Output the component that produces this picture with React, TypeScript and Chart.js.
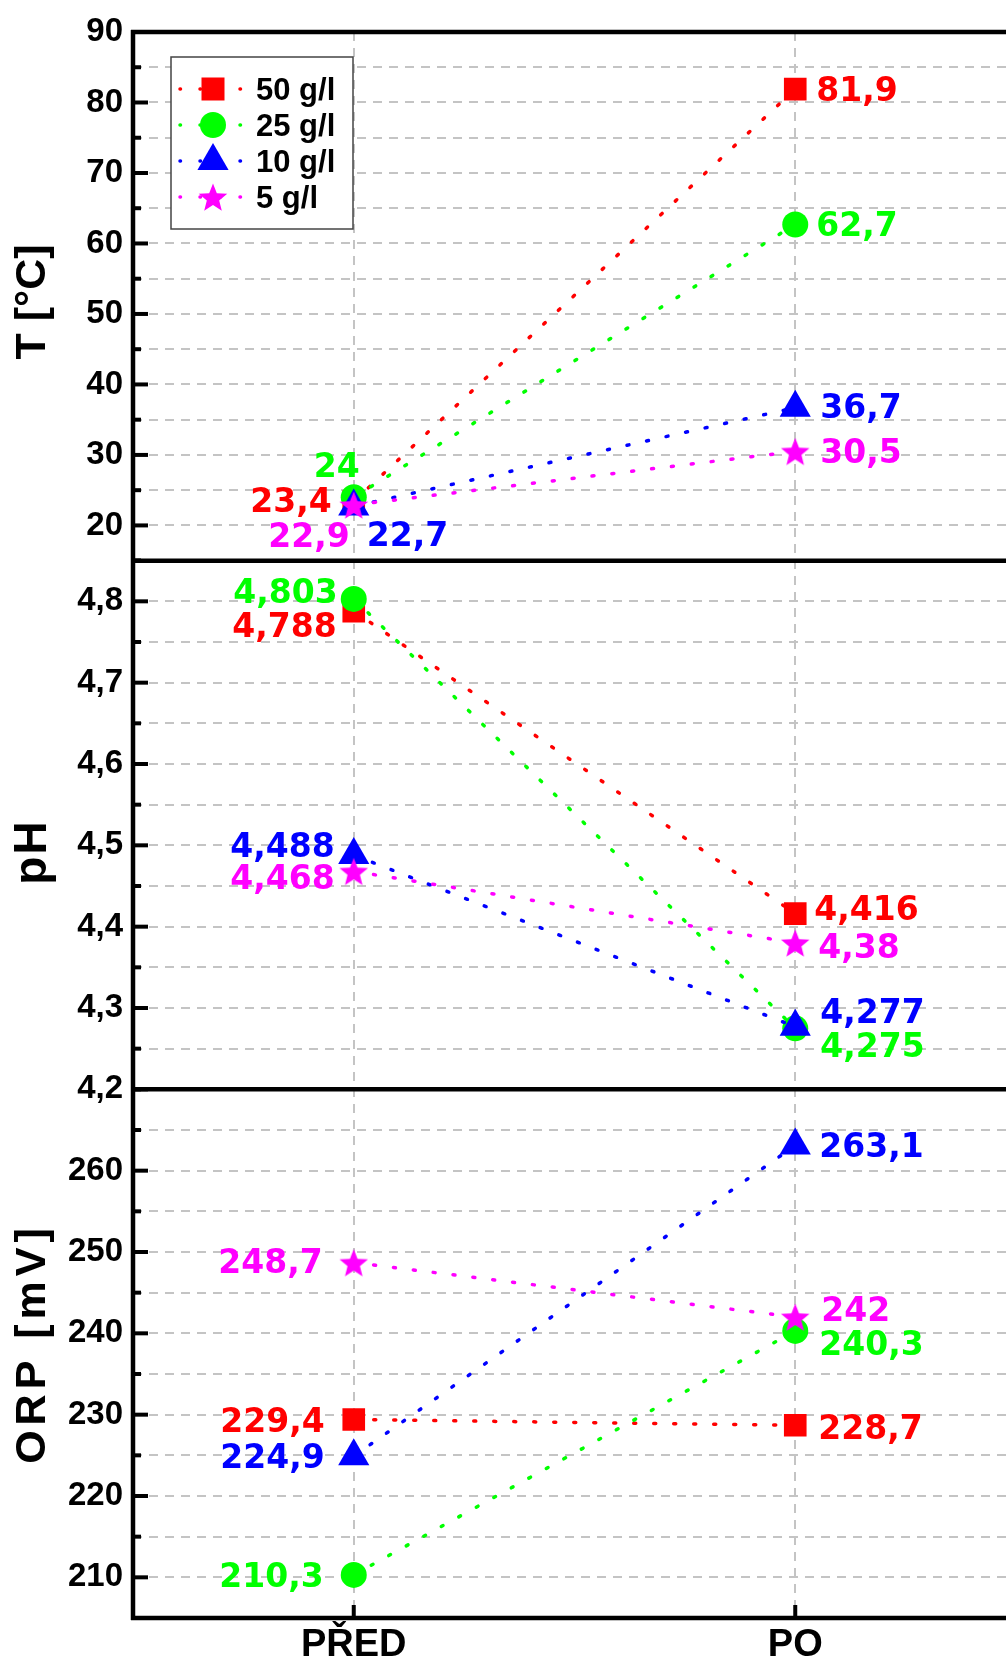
import React, { useEffect, useRef } from 'react';
import { Chart, registerables } from 'chart.js';

Chart.register(...registerables);

// ---------- data ----------
const categories = ['PŘED', 'PO'];
const seriesNames = ['50 g/l', '25 g/l', '10 g/l', '5 g/l'];

const temp50 = [23.4, 81.9];
const temp25 = [24, 62.7];
const temp10 = [22.7, 36.7];
const temp5 = [22.9, 30.5];

const ph50 = [4.788, 4.416];
const ph25 = [4.803, 4.275];
const ph10 = [4.488, 4.277];
const ph5 = [4.468, 4.38];

const orp50 = [229.4, 228.7];
const orp25 = [210.3, 240.3];
const orp10 = [224.9, 263.1];
const orp5 = [248.7, 242];

const tempTickLabels = [20, 30, 40, 50, 60, 70, 80, 90];
const phTickLabels = [4.2, 4.3, 4.4, 4.5, 4.6, 4.7, 4.8];
const orpTickLabels = [210, 220, 230, 240, 250, 260];

const axisTitles = ['T [°C]', 'pH', 'ORP [mV]'];

// ---------- style ----------
const COLORS = ['#ff0000', '#00ff00', '#0000ff', '#ff00ff'];
const GRID = '#c4c4c4';
const SANS = '"Liberation Sans", Arial, sans-serif';
const TICK_FONT = { family: SANS, weight: 'bold' as const, size: 33 };
const LABEL_FONT = 'bold 33px "DejaVu Sans", Verdana, sans-serif';
const CANVAS_W = 1034; // plot area extends past the visible right edge
const CANVAS_H = 1661;
// title drawing: [centerY, fontSize, letterSpacing]
const TITLE_STYLE: [number, number, number][] = [
  [302, 43, 0],
  [853, 46, 2],
  [1346, 43, 5],
];
const TITLE_X = 33;

// label offsets per panel, per series, per category: [dx, dy, align]
type Off = [number, number, CanvasTextAlign];
const tempOffsets: Off[][] = [
  [[-22, -1, 'right'], [21, 0, 'left']],
  [[-17, -32, 'center'], [21, 0, 'left']],
  [[13, 28, 'left'], [25, -2, 'left']],
  [[-4, 30, 'right'], [25, 0, 'left']],
];
const phOffsets: Off[][] = [
  [[-17, 14, 'right'], [19, -6, 'left']],
  [[-16, -8, 'right'], [25, 17, 'left']],
  [[-19, -10, 'right'], [25, -16, 'left']],
  [[-19, 6, 'right'], [23, 3, 'left']],
];
const orpOffsets: Off[][] = [
  [[-29, 0, 'right'], [23, 2, 'left']],
  [[-30, 0, 'right'], [24, 12, 'left']],
  [[-29, 0, 'right'], [24, 0, 'left']],
  [[-31, -2, 'right'], [26, -8, 'left']],
];

const fmt = (v: number) => String(v).replace('.', ',');

function makeStar(color: string, R: number, r: number) {
  const size = Math.ceil(R * 2) + 2;
  const c = document.createElement('canvas');
  c.width = size;
  c.height = size;
  const ctx = c.getContext('2d')!;
  ctx.fillStyle = color;
  ctx.beginPath();
  for (let i = 0; i < 10; i++) {
    const rad = i % 2 === 0 ? R : r;
    const a = -Math.PI / 2 + (i * Math.PI) / 5;
    ctx.lineTo(size / 2 + rad * Math.cos(a), size / 2 + 1.5 + rad * Math.sin(a));
  }
  ctx.closePath();
  ctx.fill();
  return c;
}

export default function App() {
  const ref = useRef<HTMLCanvasElement>(null);

  useEffect(() => {
    const canvas = ref.current!;
    const star = makeStar(COLORS[3], 15, 6.5);
    const pointStyles: any[] = ['rect', 'circle', 'triangle', star];
    const pointRadii = [16, 13, 18, 15];

    const panels = [
      { id: 'yT', series: [temp50, temp25, temp10, temp5], offsets: tempOffsets },
      { id: 'yPH', series: [ph50, ph25, ph10, ph5], offsets: phOffsets },
      { id: 'yORP', series: [orp50, orp25, orp10, orp5], offsets: orpOffsets },
    ];

    const datasets: any[] = [];
    panels.forEach((p) => {
      p.series.forEach((vals, si) => {
        datasets.push({
          label: seriesNames[si],
          data: vals,
          yAxisID: p.id,
          order: 4 - si,
          borderColor: COLORS[si],
          backgroundColor: COLORS[si],
          borderWidth: 3.5,
          borderDash: [2, 18],
          borderCapStyle: 'round',
          tension: 0,
          pointStyle: pointStyles[si],
          pointRadius: pointRadii[si],
          pointHoverRadius: pointRadii[si],
          pointBackgroundColor: COLORS[si],
          pointBorderColor: COLORS[si],
          pointBorderWidth: 0,
          labelOffsets: p.offsets[si],
        });
      });
    });

    const yScale = (min: number, max: number, step: number, labels: number[]) => ({
      type: 'linear',
      position: 'left',
      stack: 'panels',
      stackWeight: 1,
      min,
      max,
      ticks: {
        stepSize: step,
        autoSkip: false,
        color: '#000',
        font: TICK_FONT,
        padding: 10,
        callback: (v: any) => {
          const n = Number(v);
          const hit = labels.find((l) => Math.abs(l - n) < 1e-6);
          return hit === undefined ? '' : fmt(hit);
        },
      },
      grid: { color: GRID, lineWidth: 2, drawTicks: false },
      border: { display: false, dash: [9, 7] },
      title: { display: false },
      afterFit: (s: any) => {
        s.width = 133;
      },
    });

    const tickLists: Record<string, number[]> = {
      yT: tempTickLabels,
      yPH: phTickLabels,
      yORP: orpTickLabels,
    };

    const framePlugin = {
      id: 'frame',
      afterDraw(chart: any) {
        const ctx = chart.ctx;
        const a = chart.chartArea;
        ctx.save();
        ctx.strokeStyle = '#000';
        ctx.lineCap = 'butt';
        ctx.lineWidth = 4;
        ['yT', 'yPH', 'yORP'].forEach((id) => {
          const s = chart.scales[id];
          s.ticks.forEach((t: any) => {
            const y = s.getPixelForValue(t.value);
            const major = tickLists[id].some((l) => Math.abs(l - t.value) < 1e-6);
            ctx.beginPath();
            ctx.moveTo(a.left, y);
            ctx.lineTo(a.left + (major ? 15 : 8), y);
            ctx.stroke();
          });
        });
        const xs = chart.scales.x;
        categories.forEach((_, i) => {
          const x = xs.getPixelForValue(i);
          ctx.beginPath();
          ctx.moveTo(x, a.bottom);
          ctx.lineTo(x, a.bottom - 13);
          ctx.stroke();
        });
        ctx.lineWidth = 4.5;
        const seps = [a.top, chart.scales.yT.bottom, chart.scales.yPH.bottom, a.bottom];
        seps.forEach((y) => {
          ctx.beginPath();
          ctx.moveTo(a.left - 2, y);
          ctx.lineTo(chart.width, y);
          ctx.stroke();
        });
        ctx.beginPath();
        ctx.moveTo(a.left, a.top - 2);
        ctx.lineTo(a.left, a.bottom + 2);
        ctx.stroke();

        // axis titles
        ctx.fillStyle = '#000';
        axisTitles.forEach((t, i) => {
          const [cy, size, ls] = TITLE_STYLE[i];
          ctx.save();
          ctx.translate(TITLE_X, cy);
          ctx.rotate(-Math.PI / 2);
          ctx.font = `bold ${size}px ${SANS}`;
          (ctx as any).letterSpacing = `${ls}px`;
          ctx.textAlign = 'center';
          ctx.textBaseline = 'middle';
          ctx.fillText(t, ls / 2, 0);
          ctx.restore();
        });
        ctx.restore();
      },
    };

    const labelPlugin = {
      id: 'valueLabels',
      afterDatasetsDraw(chart: any) {
        const ctx = chart.ctx;
        ctx.save();
        ctx.font = LABEL_FONT;
        ctx.textBaseline = 'alphabetic';
        chart.data.datasets.forEach((ds: any, di: number) => {
          const meta = chart.getDatasetMeta(di);
          meta.data.forEach((pt: any, i: number) => {
            const [dx, dy, align] = ds.labelOffsets[i];
            ctx.fillStyle = ds.borderColor;
            ctx.textAlign = align;
            ctx.fillText(fmt(ds.data[i]), pt.x + dx, pt.y + dy + 12);
          });
        });
        ctx.restore();
      },
    };

    const legendPlugin = {
      id: 'insideLegend',
      afterDraw(chart: any) {
        const ctx = chart.ctx;
        ctx.save();
        ctx.fillStyle = '#fff';
        ctx.fillRect(171, 57, 182, 172);
        ctx.strokeStyle = '#444';
        ctx.lineWidth = 1.5;
        ctx.strokeRect(171, 57, 182, 172);
        const rows = [89, 125, 161, 197];
        seriesNames.forEach((name, i) => {
          const y = rows[i];
          ctx.strokeStyle = COLORS[i];
          ctx.lineWidth = 3.5;
          ctx.lineCap = 'round';
          ctx.setLineDash([0.5, 19.5]);
          ctx.beginPath();
          ctx.moveTo(180, y);
          ctx.lineTo(242, y);
          ctx.stroke();
          ctx.setLineDash([]);
          ctx.fillStyle = COLORS[i];
          const mx = 213;
          if (i === 0) {
            ctx.fillRect(mx - 11.5, y - 11.5, 23, 23);
          } else if (i === 1) {
            ctx.beginPath();
            ctx.arc(mx, y, 13, 0, Math.PI * 2);
            ctx.fill();
          } else if (i === 2) {
            const r = 18;
            ctx.beginPath();
            ctx.moveTo(mx, y - r);
            ctx.lineTo(mx + r * 0.866, y + r / 2);
            ctx.lineTo(mx - r * 0.866, y + r / 2);
            ctx.closePath();
            ctx.fill();
          } else {
            ctx.drawImage(star, mx - star.width / 2, y - star.height / 2);
          }
          ctx.fillStyle = '#000';
          ctx.font = `bold 31px ${SANS}`;
          ctx.textAlign = 'left';
          ctx.textBaseline = 'alphabetic';
          ctx.fillText(name, 256, y + 11);
        });
        ctx.restore();
      },
    };

    const chart = new Chart(canvas, {
      type: 'line',
      data: { labels: categories, datasets },
      options: {
        animation: false,
        responsive: false,
        devicePixelRatio: 1,
        layout: { padding: { top: 32, right: 3, left: 0, bottom: 0 } },
        plugins: { legend: { display: false }, tooltip: { enabled: false } },
        scales: {
          x: {
            type: 'category',
            offset: true,
            grid: { offset: false, color: GRID, lineWidth: 2, drawTicks: false },
            border: { display: false, dash: [9, 7] },
            ticks: {
              color: '#000',
              font: { family: SANS, weight: 'bold', size: 38 },
              padding: 5,
              maxRotation: 0,
            },
            afterFit: (s: any) => {
              s.height = 43;
              s.paddingLeft = 0;
              s.paddingRight = 0;
            },
          },
          yORP: yScale(205, 270, 5, orpTickLabels),
          yPH: yScale(4.2, 4.85, 0.05, phTickLabels),
          yT: yScale(15, 90, 5, tempTickLabels),
        } as any,
      },
      plugins: [labelPlugin, framePlugin, legendPlugin],
    } as any);

    return () => chart.destroy();
  }, []);

  return (
    <div
      style={{
        position: 'absolute',
        left: 0,
        top: 0,
        width: 1006,
        height: CANVAS_H,
        overflow: 'hidden',
        background: '#fff',
      }}
    >
      <div style={{ position: 'relative', width: 1200, height: CANVAS_H }}>
        <canvas
          ref={ref}
          width={CANVAS_W}
          height={CANVAS_H}
          style={{ display: 'block', width: CANVAS_W, height: CANVAS_H }}
        />
      </div>
    </div>
  );
}
